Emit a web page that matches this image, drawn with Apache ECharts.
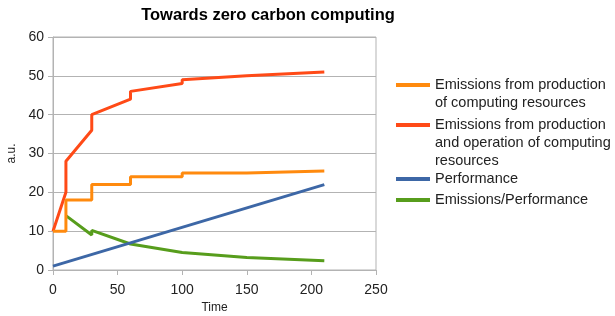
<!DOCTYPE html>
<html>
<head>
<meta charset="utf-8">
<script src="https://cdn.jsdelivr.net/npm/echarts@6/dist/echarts.min.js"></script>
<style>
html, body { margin: 0; padding: 0; background: #fff; }
#main { width: 615px; height: 316px; }
</style>
</head>
<body>
<div id="main"></div>
<script>
var names = ['Emissions from production\nof computing resources',
    'Emissions from production\nand operation of computing\nresources',
    'Performance',
    'Emissions/Performance'];
var colors = ['#ff8a0e', '#ff4a17', '#3d67a6', '#579d1c'];

// [time, value]
var production = [[0, 10], [10, 10], [10, 18], [30, 18], [30, 22], [60, 22], [60, 24],
    [100, 24], [100, 25], [150, 25], [150, 25.5], [210, 25.5]];
var prodOper = [[0, 10], [10, 20], [10, 28], [30, 36], [30, 40], [60, 44], [60, 46],
    [100, 48], [100, 49], [150, 50], [150, 50.5], [210, 51]];
var performance = [[0, 1], [210, 22]];
var ratio = [[10, 14], [30, 9], [30, 10.2], [60, 6.7], [100, 4.5], [150, 3.2], [210, 2.4]];

var xTicks = [0, 50, 100, 150, 200, 250];
var yTicks = [0, 10, 20, 30, 40, 50, 60];

var chart = echarts.init(document.getElementById('main'));

// one legend per entry, icon lined up with the first text line
function legendFor(i, iconY) {
    var lh = 18;
    var lines = names[i].split('\n').length;
    var pad = '';
    for (var k = 1; k < lines; k++) pad += '\n';
    return {
        left: 396,
        top: iconY - (2 * lines - 1) * lh / 2,
        padding: 0,
        itemWidth: 34,
        itemHeight: 4,
        icon: 'rect',
        selectedMode: false,
        data: [names[i]],
        formatter: function (n) { return pad + n; },
        textStyle: {
            fontFamily: 'Liberation Sans, Arial, sans-serif',
            fontSize: 14.5,
            color: '#222',
            lineHeight: lh
        }
    };
}

var series = [production, prodOper, performance, ratio].map(function (d, i) {
    return {
        name: names[i],
        type: 'line',
        data: d,
        symbol: 'none',
        lineStyle: { width: 3, color: colors[i] },
        itemStyle: { color: colors[i] },
        z: 5 - i
    };
});

var option = {
    animation: false,
    title: {
        text: 'Towards zero carbon computing',
        left: 263,
        textAlign: 'center',
        top: 2,
        textStyle: {
            fontFamily: 'Liberation Sans, Arial, sans-serif',
            fontSize: 16.5,
            fontWeight: 'bold',
            color: '#000'
        }
    },
    legend: [
        legendFor(0, 85),
        legendFor(1, 125),
        legendFor(2, 179),
        legendFor(3, 200)
    ],
    grid: {
        left: 53, right: 239, top: 37, bottom: 46,
        outerBoundsMode: 'none',
        containLabel: false,
        show: true, borderColor: '#b3b3b3', borderWidth: 1
    },
    xAxis: {
        type: 'value',
        min: xTicks[0],
        max: xTicks[xTicks.length - 1],
        interval: 50,
        name: 'Time',
        nameLocation: 'middle',
        nameGap: 31,
        nameTextStyle: { fontFamily: 'Liberation Sans, Arial, sans-serif', fontSize: 12, color: '#222' },
        axisLine: { show: true, lineStyle: { color: '#b3b3b3' } },
        axisTick: { show: true, length: 5, lineStyle: { color: '#b3b3b3' } },
        splitLine: { show: false },
        axisLabel: { fontFamily: 'Liberation Sans, Arial, sans-serif', fontSize: 14, color: '#222', margin: 13 }
    },
    yAxis: {
        type: 'value',
        min: yTicks[0],
        max: yTicks[yTicks.length - 1],
        interval: 10,
        name: 'a.u.',
        nameLocation: 'middle',
        nameGap: 34,
        nameTextStyle: { fontFamily: 'Liberation Sans, Arial, sans-serif', fontSize: 12, color: '#222' },
        axisLine: { show: true, lineStyle: { color: '#b3b3b3' } },
        axisTick: { show: true, length: 5, lineStyle: { color: '#b3b3b3' } },
        splitLine: { show: true, lineStyle: { color: '#b3b3b3', width: 1 } },
        axisLabel: { fontFamily: 'Liberation Sans, Arial, sans-serif', fontSize: 14, color: '#222', margin: 9 }
    },
    series: series
};
chart.setOption(option);
</script>
</body>
</html>
